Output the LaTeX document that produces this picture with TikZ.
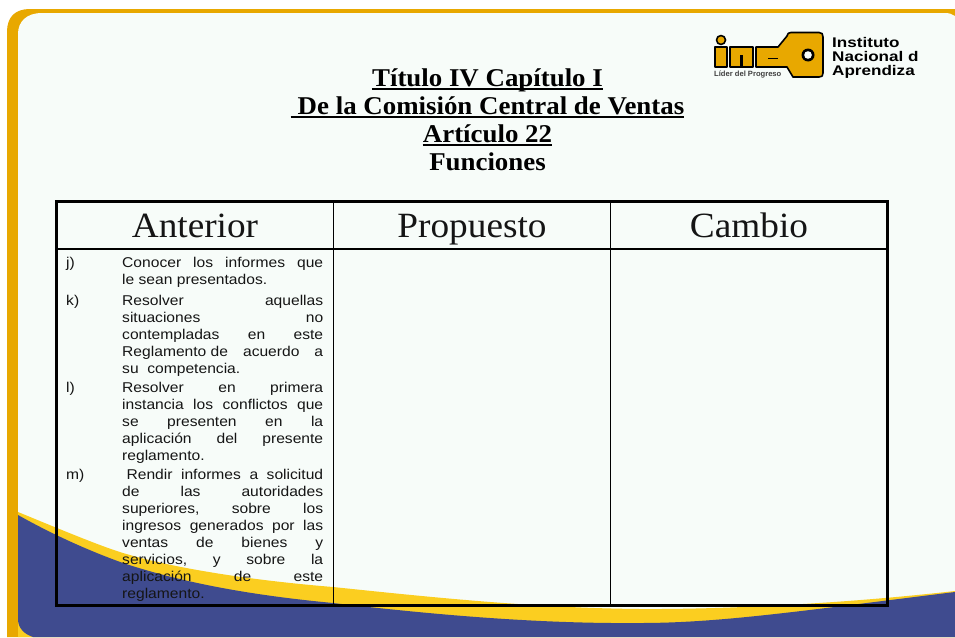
\documentclass[tikz,border=0pt]{standalone}
\usepackage{graphicx}
\usepackage{fontspec}
\setmainfont{Liberation Serif}
\setsansfont{Liberation Sans}
\newfontfamily\bodyfam[FakeStretch=1.1]{Liberation Sans}
\newfontfamily\titlefam[FakeStretch=1.05]{Liberation Serif}
\definecolor{panel}{HTML}{F7FCF9}
\definecolor{frameor}{HTML}{E8A800}
\definecolor{waveyl}{HTML}{FBCE20}
\definecolor{waveblue}{HTML}{3F4B8F}
\definecolor{inktxt}{HTML}{151515}
\newcommand{\jl}[1]{\hbox to 201pt{#1}}
\newcommand{\skp}{\hspace{0pt plus 1fill}}
\newcommand{\wdr}[1]{\scalebox{1.22}[1]{#1}}
\tikzset{
  titletxt/.style={font=\titlefam\fontsize{25.6}{25.6}\selectfont\bfseries,anchor=base,inner sep=0pt,text=black},
  titlerule/.style={line width=1.6pt,draw=black},
  headtxt/.style={font=\titlefam\fontsize{35.5}{35.5}\selectfont,anchor=base,inner sep=0pt,text=inktxt},
  bodytxt/.style={font=\bodyfam\fontsize{14.2}{16.9}\selectfont,anchor=north west,inner sep=0pt,text=inktxt,align=left},
  marktxt/.style={font=\bodyfam\fontsize{14.2}{16.9}\selectfont,anchor=north west,inner sep=0pt,text=inktxt},
  logotxt/.style={font=\sffamily\bfseries\fontsize{14}{14}\selectfont,anchor=base west,inner sep=0pt,text=black},
  logobox/.style={fill=frameor,draw=black,line width=1.6pt,line join=round},
  tableouter/.style={line width=3pt,draw=black},
  tableinner/.style={line width=1.3pt,draw=black}
}
\begin{document}
\begin{tikzpicture}[x=1pt,y=-1pt]
\useasboundingbox (0,0) rectangle (955,637);
\fill[white] (0,0) rectangle (955,637);
% frame
\fill[frameor] (7,637) -- (7,32) .. controls (7,17) and (15,9) .. (30,9) -- (955,9) -- (955,637) -- cycle;
% panel
\fill[panel] (18,637) -- (18,34) .. controls (18,22) and (26,13) .. (42,13) -- (945,13) .. controls (949,13) and (952,14) .. (955,16) -- (955,637) -- cycle;
% wave yellow
\fill[waveyl] (18,512) .. controls (57,528) and (100,546) .. (123,553) .. controls (180,570) and (260,581) .. (333,587) .. controls (420,596) and (530,608) .. (640,609) .. controls (720,609.5) and (840,604) .. (955,591) -- (955,637) -- (18,637) -- cycle;
% wave blue + bottom corner
\fill[waveblue] (18,515) .. controls (57,537) and (95,553) .. (123,563) .. controls (190,585) and (260,596) .. (333,603) .. controls (420,613) and (530,624) .. (640,623) .. controls (720,623) and (800,611) .. (955,592) -- (955,637) -- (33,637) .. controls (24,634) and (18,628) .. (18,619) -- cycle;
% logo key
\coordinate (keyhole) at (808,55);
\path[logobox] (721,40) circle (4.5);
\path[logobox] (715,47) rectangle (727,67);
\path[logobox] (730,47) rectangle (753,67);
\fill[black] (739.5,55) rectangle (743,67);
\path[logobox] (787,36) .. controls (787,33.5) and (789,32.5) .. (791,32.5) -- (819,32.5) .. controls (822,32.5) and (823,34) .. (823,37) -- (823,73) .. controls (823,76) and (822,77) .. (819,77) -- (793,77) -- (787,67) -- (756,67) -- (756,47) -- (778,47) -- cycle;
\fill[black] (768,57.5) rectangle (778,59);
\fill[black] (keyhole) circle (6.5);
\fill[panel] (keyhole) circle (3.8);
\node[font=\sffamily\bfseries\fontsize{7.6}{7.6}\selectfont,anchor=base west,inner sep=0pt,text=black!75] (slogan) at (714,76) {L\'ider del Progreso};
\node[logotxt] (inst1) at (832,47.5) {\wdr{Instituto}};
\node[logotxt] (inst2) at (832,61) {\wdr{Nacional d}};
\node[logotxt] (inst3) at (832,75.5) {\wdr{Aprendiza}};
% title
\node[titletxt] (t1) at (487.5,86.5) {T\'itulo IV Cap\'itulo I};
\node[titletxt] (t2) at (487.5,114.5) {\hspace*{7pt}De la Comisi\'on Central de Ventas};
\node[titletxt] (t3) at (487.5,142.5) {Art\'iculo 22};
\node[titletxt] (t4) at (487.5,170.5) {Funciones};
\draw[titlerule] ([yshift=-2.6pt]t1.base west) -- ([yshift=-2.6pt]t1.base east);
\draw[titlerule] ([yshift=-2.6pt]t2.base west) -- ([yshift=-2.6pt]t2.base east);
\draw[titlerule] ([yshift=-2.6pt]t3.base west) -- ([yshift=-2.6pt]t3.base east);
% table
\draw[tableinner] (57,249) -- (887.5,249);
\draw[tableinner] (333.6,201) -- (333.6,605.5);
\draw[tableinner] (610.6,201) -- (610.6,605.5);
\draw[tableouter] (56.8,201) rectangle (887.5,605.5);
\node[headtxt] (h1) at (195,237) {Anterior};
\node[headtxt] (h2) at (472,237) {Propuesto};
\node[headtxt] (h3) at (749,237) {Cambio};
% items
\node[marktxt] (mj) at (66,257.5) {j)};
\node[bodytxt] (bj) at (122,257.5) {\jl{Conocer\skp los\skp informes\skp que}\\le sean presentados.};
\node[marktxt] (mk) at (66,295.5) {k)};
\node[bodytxt] (bk) at (122,295.5) {\jl{Resolver\skp aquellas}\\\jl{situaciones\skp no}\\\jl{contempladas\skp en\skp este}\\\jl{Reglamento de\skp acuerdo\skp a}\\su\ \ competencia.};
\node[marktxt] (ml) at (66,382.5) {l)};
\node[bodytxt] (bl) at (122,382.5) {\jl{Resolver\skp en\skp primera}\\\jl{instancia\skp los\skp conflictos\skp que}\\\jl{se\skp presenten\skp en\skp la}\\\jl{aplicaci\'on\skp del\skp presente}\\reglamento.};
\node[marktxt] (mm) at (66,469.5) {m)};
\node[bodytxt] (bm) at (122,469.5) {\jl{\ Rendir\skp informes\skp a\skp solicitud}\\\jl{de\skp las\skp autoridades}\\\jl{superiores,\skp sobre\skp los}\\\jl{ingresos\skp generados\skp por\skp las}\\\jl{ventas\skp de\skp bienes\skp y}\\\jl{servicios,\skp y\skp sobre\skp la}\\\jl{aplicaci\'on\skp de\skp este}\\reglamento.};
\end{tikzpicture}
\end{document}
